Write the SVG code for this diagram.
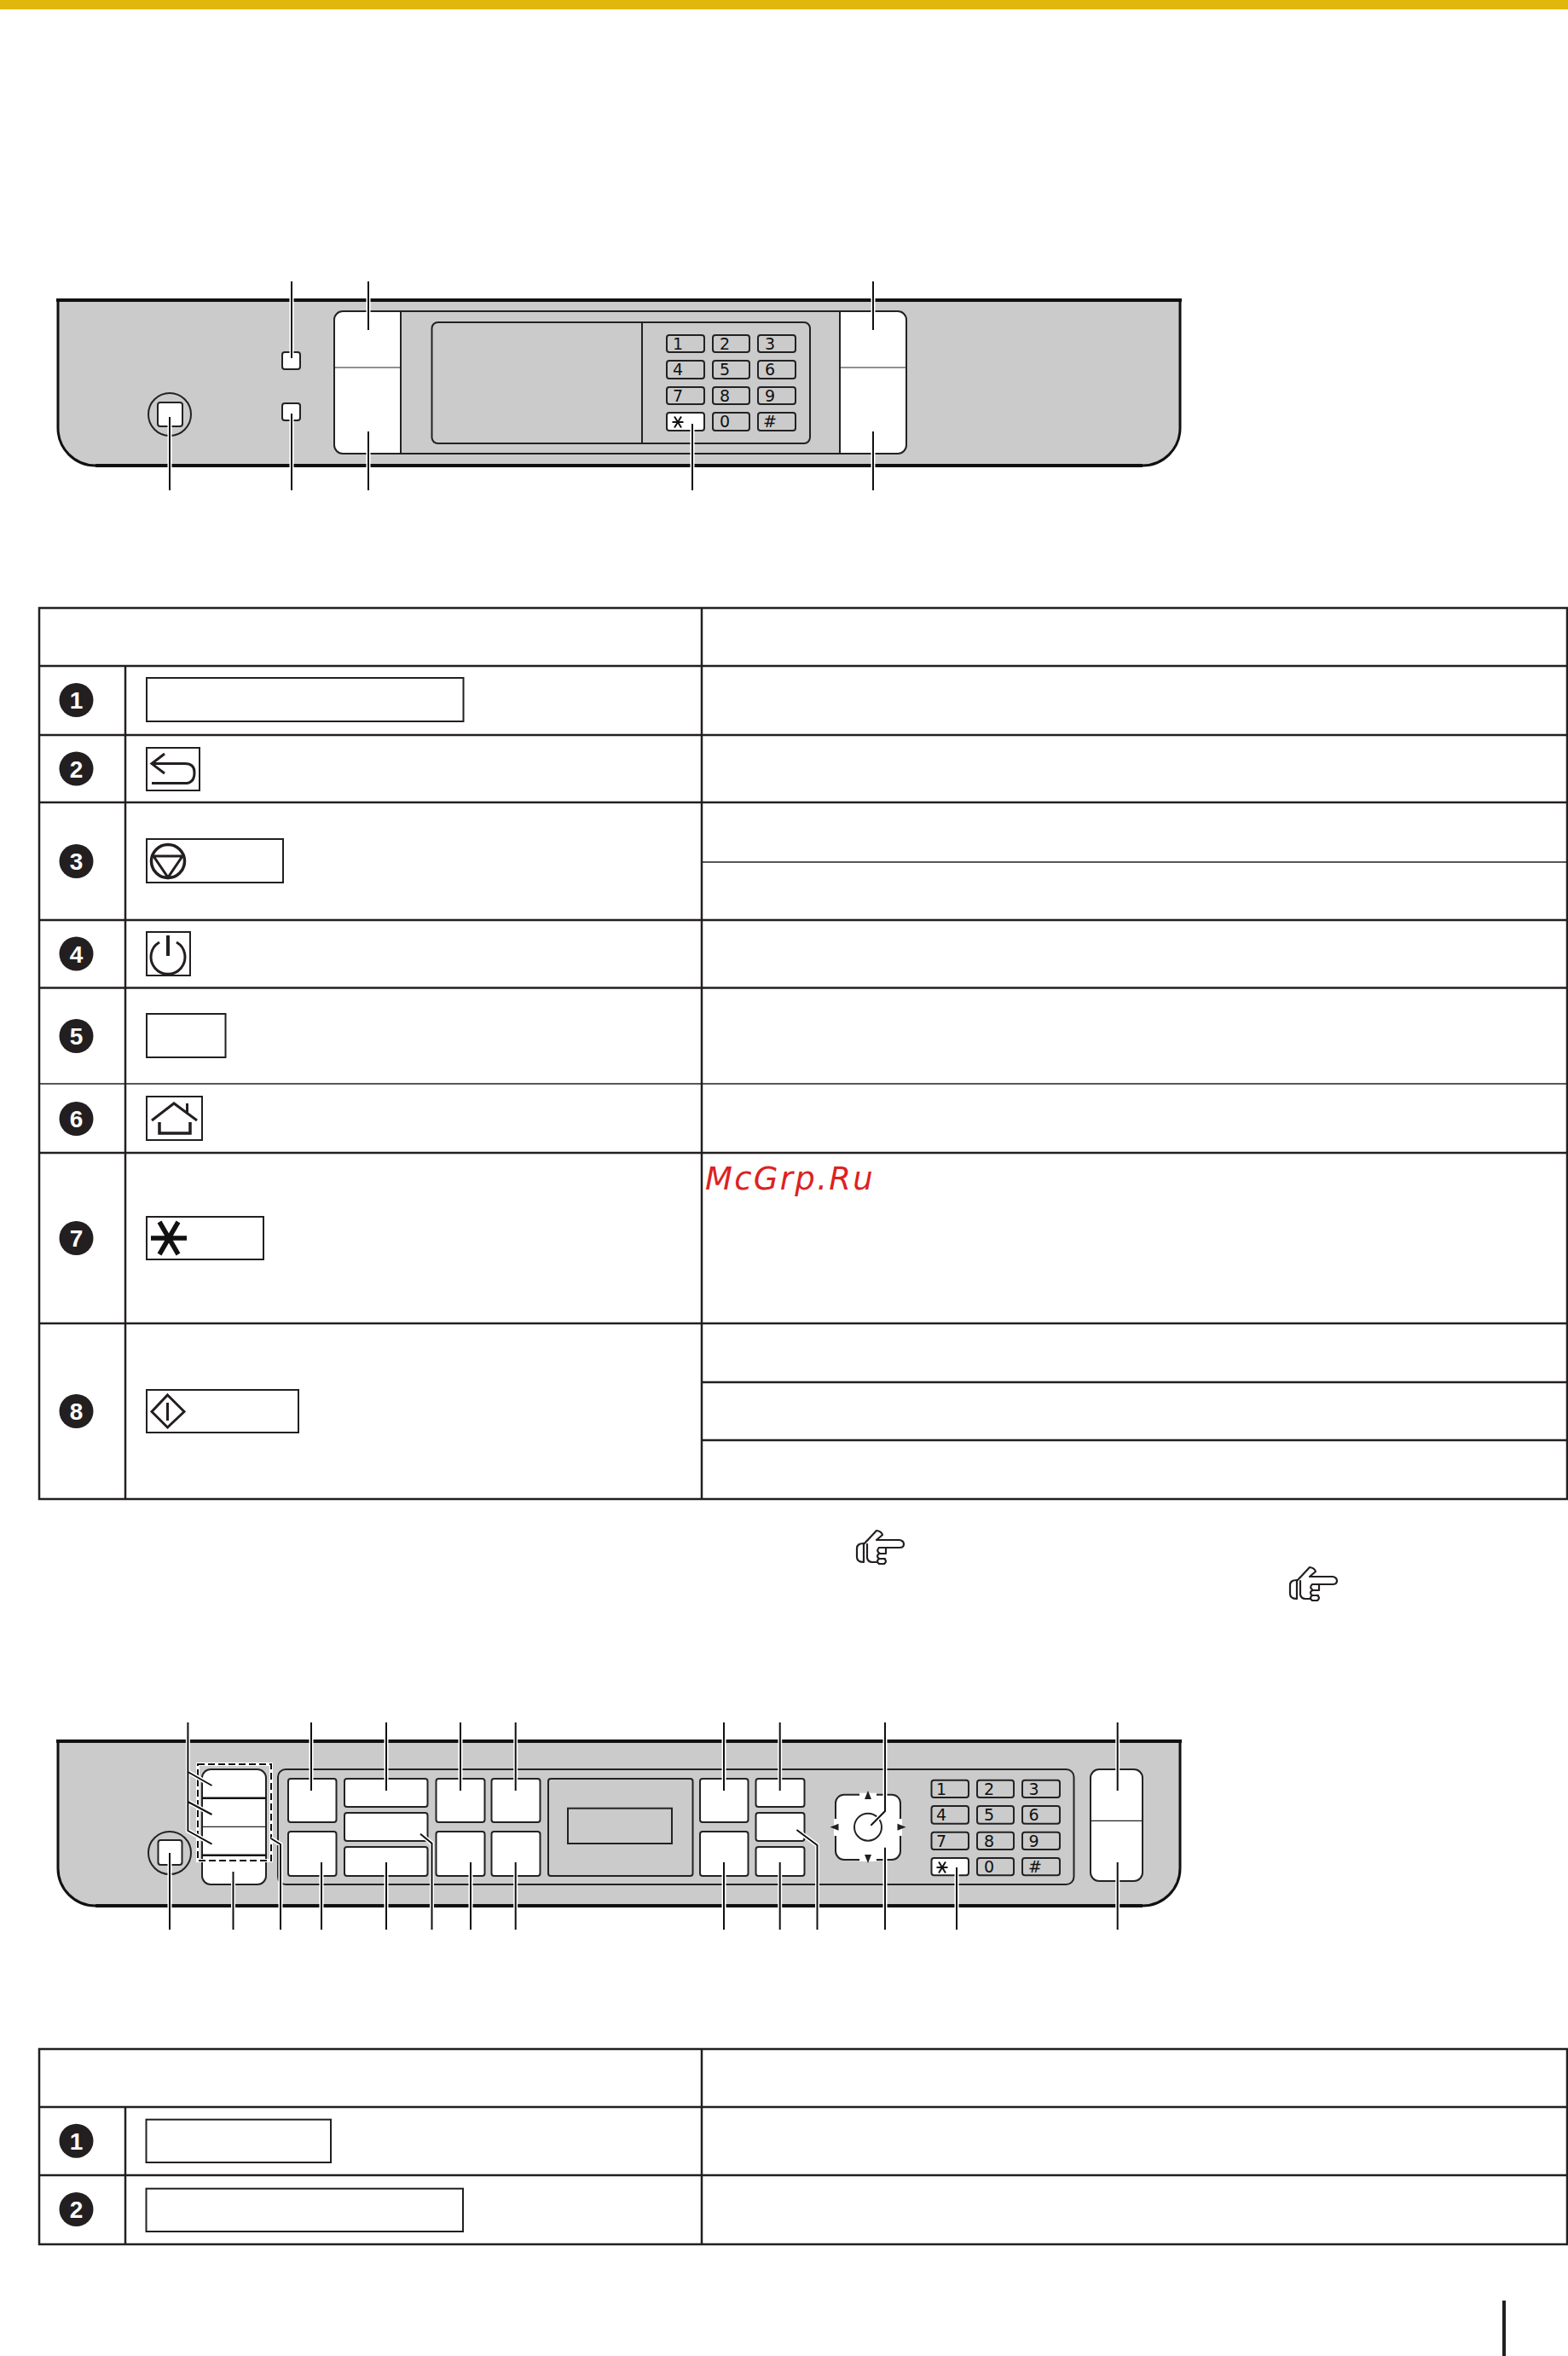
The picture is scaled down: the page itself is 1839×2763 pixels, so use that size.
<svg xmlns="http://www.w3.org/2000/svg" width="1839" height="2763" viewBox="0 0 1839 2763">
<style>
.panel{fill:#cbcbcb;stroke:#111;stroke-width:3}
.pedge{fill:none;stroke:#111;stroke-width:4}
.wb{fill:#fff;stroke:#222;stroke-width:2}
.key{fill:#cbcbcb;stroke:#222;stroke-width:2}
.line{fill:none;stroke:#222;stroke-width:2}
.thin{fill:none;stroke:#222;stroke-width:1.2}
.halo{fill:none;stroke:#fff;stroke-width:5}
.lead{fill:none;stroke:#111;stroke-width:2}
.t{fill:none;stroke:#231f20;stroke-width:2.5}
.t2{fill:none;stroke:#231f20;stroke-width:1.5}
.bx{fill:#fff;stroke:#231f20;stroke-width:2}
.ico{fill:none;stroke:#231f20;stroke-width:3}
.hand{fill:none;stroke:#231f20;stroke-width:2.2;stroke-linejoin:round;stroke-linecap:round}
.num{fill:#fff;font:bold 28px "Liberation Sans",Arial,sans-serif;text-anchor:middle}
.dot{fill:#231f20}
.d{fill:#111;font:19px "DejaVu Sans",sans-serif;text-anchor:middle}
.wm{fill:#dc2222;font:italic 37px "DejaVu Sans",sans-serif;letter-spacing:2.3px}
</style>
<defs>
<g id="leadhand"><path class="hand" d="M8 15Q0 15 0 21V31Q0 37 8 37ZM8 16 23 0Q29 1 30 5L23 11H50Q55 12 55 16Q55 20 50 20H26Q22 24 27 27H34M26 27Q22 30 26 33H33M26 33Q22 36 26 39H32Q36 36 32 33M34 20V27M12 16V32Q13 37 18 37H24"/></g>
<path id="star" d="M-4-6.500 4 6.500M4-6.500-4 6.500M-6.500 0H6.500" fill="none" stroke="#111" stroke-width="2"/>
</defs>
<rect x="0" y="0" width="1839" height="11" fill="#e0b70b"/>

<g id="panel1">
<path class="panel" d="M68 352H1384V502a44 44 0 0 1-44 44H112a44 44 0 0 1-44-44Z"/>
<path class="pedge" d="M66 352H1386M112 546H1340"/>
<rect class="line" x="470" y="365" width="515" height="167"/>
<path class="wb" d="M470 365H402a10 10 0 0 0-10 10V522a10 10 0 0 0 10 10H470Z"/>
<path class="wb" d="M985 365H1053a10 10 0 0 1 10 10V522a10 10 0 0 1-10 10H985Z"/>
<path class="thin" d="M392 431H470M985 431H1063"/>
<rect class="line" x="506.500" y="378" width="443.500" height="142" rx="7"/>
<path class="line" d="M753 378V520"/>
<rect class="wb" x="331" y="413" width="21" height="20" rx="3"/>
<rect class="wb" x="331" y="473" width="21" height="20" rx="3"/>
<circle class="line" cx="199" cy="486" r="25"/>
<rect class="wb" x="185" y="472" width="29" height="28" rx="3"/>
<g id="keys1">
<rect class="key" x="782" y="393" width="44" height="20" rx="3"/><rect class="key" x="836" y="393" width="43" height="20" rx="3"/><rect class="key" x="889" y="393" width="44" height="20" rx="3"/>
<rect class="key" x="782" y="423" width="44" height="21" rx="3"/><rect class="key" x="836" y="423" width="43" height="21" rx="3"/><rect class="key" x="889" y="423" width="44" height="21" rx="3"/>
<rect class="key" x="782" y="454" width="44" height="20" rx="3"/><rect class="key" x="836" y="454" width="43" height="20" rx="3"/><rect class="key" x="889" y="454" width="44" height="20" rx="3"/>
<rect class="wb" x="782" y="484" width="44" height="21" rx="3"/><rect class="key" x="836" y="484" width="43" height="21" rx="3"/><rect class="key" x="889" y="484" width="44" height="21" rx="3"/>
<text class="d" x="795" y="410">1</text><text class="d" x="850" y="410">2</text><text class="d" x="903" y="410">3</text>
<text class="d" x="795" y="440">4</text><text class="d" x="850" y="440">5</text><text class="d" x="903" y="440">6</text>
<text class="d" x="795" y="471">7</text><text class="d" x="850" y="471">8</text><text class="d" x="903" y="471">9</text>
<use href="#star" x="795" y="495"/><text class="d" x="850" y="501">0</text><text class="d" x="903" y="501">#</text>
</g>
</g>

<g id="panel2">
<path class="panel" d="M68 2042H1384V2191a44 44 0 0 1-44 44H112a44 44 0 0 1-44-44Z"/>
<path class="pedge" d="M66 2042H1386M112 2235H1340"/>
<rect class="line" x="326" y="2075" width="933.500" height="135" rx="9"/>
<path class="wb" d="M247 2075H302a10 10 0 0 1 10 10V2200a10 10 0 0 1-10 10H247a10 10 0 0 1-10-10V2085a10 10 0 0 1 10-10Z"/>
<path d="M237 2108.700H312M237 2175.700H312" fill="none" stroke="#111" stroke-width="2.500"/>
<path d="M237 2142.300H312" class="thin"/>
<rect x="232" y="2069" width="86" height="113" fill="none" stroke="#fff" stroke-width="4"/>
<rect x="232" y="2069" width="86" height="113" fill="none" stroke="#111" stroke-width="2" stroke-dasharray="8 4"/>
<circle class="line" cx="199" cy="2173" r="25"/>
<rect class="wb" x="185.500" y="2158" width="28" height="29" rx="3"/>
<g id="btns2">
<rect class="wb" x="338" y="2086" width="56.500" height="51" rx="3"/><rect class="wb" x="338" y="2148" width="56.500" height="52" rx="3"/>
<rect class="wb" x="404" y="2086" width="97.500" height="33" rx="3"/><rect class="wb" x="404" y="2126" width="97.500" height="33" rx="3"/><rect class="wb" x="404" y="2166" width="97.500" height="34" rx="3"/>
<rect class="wb" x="511.500" y="2086" width="57" height="51" rx="3"/><rect class="wb" x="511.500" y="2148" width="57" height="52" rx="3"/>
<rect class="wb" x="576.500" y="2086" width="57" height="51" rx="3"/><rect class="wb" x="576.500" y="2148" width="57" height="52" rx="3"/>
<rect class="line" x="643" y="2086" width="169.500" height="114" rx="3"/>
<rect class="line" x="666" y="2120.700" width="122" height="41.300"/>
<rect class="wb" x="821" y="2086" width="56.500" height="51" rx="3"/><rect class="wb" x="821" y="2148" width="56.500" height="52" rx="3"/>
<rect class="wb" x="886.500" y="2086" width="57" height="33" rx="3"/><rect class="wb" x="886.500" y="2126" width="57" height="33" rx="3"/><rect class="wb" x="886.500" y="2166" width="57" height="34" rx="3"/>
</g>
<g id="nav">
<rect class="wb" x="980" y="2104.700" width="76" height="76.300" rx="10"/>
<path d="M1008 2104.700H1028M1008 2181H1028M980 2133V2153M1056 2133V2153" stroke="#fff" stroke-width="4"/>
<circle class="line" cx="1018" cy="2142.700" r="16"/>
<path class="dot" d="M1018 2100l4 10h-8ZM1018 2185l4-10h-8ZM973.500 2142.700l10-4v8ZM1062.500 2142.700l-10-4v8Z"/>
</g>
<g id="keys2">
<rect class="line" x="1092.500" y="2087.700" width="43.500" height="20.300" rx="3"/><rect class="line" x="1146" y="2087.700" width="43" height="20.300" rx="3"/><rect class="line" x="1199" y="2087.700" width="44" height="20.300" rx="3"/>
<rect class="line" x="1092.500" y="2118" width="43.500" height="20.700" rx="3"/><rect class="line" x="1146" y="2118" width="43" height="20.700" rx="3"/><rect class="line" x="1199" y="2118" width="44" height="20.700" rx="3"/>
<rect class="line" x="1092.500" y="2148.700" width="43.500" height="20.300" rx="3"/><rect class="line" x="1146" y="2148.700" width="43" height="20.300" rx="3"/><rect class="line" x="1199" y="2148.700" width="44" height="20.300" rx="3"/>
<rect class="wb" x="1092.500" y="2179" width="43.500" height="20.300" rx="3"/><rect class="line" x="1146" y="2179" width="43" height="20.300" rx="3"/><rect class="line" x="1199" y="2179" width="44" height="20.300" rx="3"/>
<text class="d" x="1104" y="2104.500">1</text><text class="d" x="1160" y="2104.500">2</text><text class="d" x="1212.500" y="2104.500">3</text>
<text class="d" x="1104" y="2135">4</text><text class="d" x="1160" y="2135">5</text><text class="d" x="1212.500" y="2135">6</text>
<text class="d" x="1104" y="2165.500">7</text><text class="d" x="1160" y="2165.500">8</text><text class="d" x="1212.500" y="2165.500">9</text>
<use href="#star" x="1105" y="2190"/><text class="d" x="1160" y="2196">0</text><text class="d" x="1214" y="2196">#</text>
</g>
<path class="wb" d="M1289 2075H1330a10 10 0 0 1 10 10V2196a10 10 0 0 1-10 10H1289a10 10 0 0 1-10-10V2085a10 10 0 0 1 10-10Z"/>
<path class="thin" d="M1279 2135.300H1340"/>
</g>

<g id="connectors">
<path id="c1" class="halo" d="M342 330V420M432 330V387M1024 330V387M199 489V575M342 485V575M432 506V575M812 497V575M1024 506V575"/>
<path class="lead" d="M342 330V420M432 330V387M1024 330V387M199 489V575M342 485V575M432 506V575M812 497V575M1024 506V575"/>
<path id="c2" class="halo" d="M220.400 2020V2147L248.500 2162.700M220.400 2078 248.500 2094M220.400 2113 248.500 2128M365 2020V2100M453 2020V2100M540 2020V2100M604.700 2020V2100M849 2020V2100M914.700 2020V2100M1038 2020V2124L1021.400 2140.700M1310.700 2020V2100M199 2173V2263M273.500 2195V2263M329 2263V2163L317.700 2156M377 2184V2263M453 2184V2263M506.500 2263V2161.700L493 2150.700M552 2184V2263M604.700 2184V2263M849 2184V2263M914.700 2184V2263M958.500 2263V2164L934.400 2146M1038 2166.700V2263M1122 2190V2263M1310.700 2184V2263"/>
<path class="lead" d="M220.400 2020V2147L248.500 2162.700M220.400 2078 248.500 2094M220.400 2113 248.500 2128M365 2020V2100M453 2020V2100M540 2020V2100M604.700 2020V2100M849 2020V2100M914.700 2020V2100M1038 2020V2124L1021.400 2140.700M1310.700 2020V2100M199 2173V2263M273.500 2195V2263M329 2263V2163L317.700 2156M377 2184V2263M453 2184V2263M506.500 2263V2161.700L493 2150.700M552 2184V2263M604.700 2184V2263M849 2184V2263M914.700 2184V2263M958.500 2263V2164L934.400 2146M1038 2166.700V2263M1122 2190V2263M1310.700 2184V2263"/>
</g>

<g id="table1">
<rect class="t" x="46" y="713" width="1792" height="1045"/>
<path class="t" d="M46 781H1838M46 862H1838M46 941H1838M46 1079H1838M46 1158.500H1838M46 1352H1838M46 1552H1838M147 781V1758M823 713V1758M823 1621H1838M823 1689H1838"/>
<path class="t2" d="M823 1011H1838M46 1271H1838"/>
<g id="r1"><circle class="dot" cx="89.500" cy="821" r="20"/><text class="num" x="89.500" y="831">1</text><rect class="bx" x="172" y="795" width="371.500" height="51"/></g>
<g id="r2"><circle class="dot" cx="89.500" cy="901.500" r="20"/><text class="num" x="89.500" y="911.500">2</text><rect class="bx" x="172" y="877" width="62" height="50"/>
<path class="ico" d="M193 884 178 895.600 193 907M178 895.600H217Q228 895.600 228 906Q228 918.600 217 918.600H178"/></g>
<g id="r3"><circle class="dot" cx="89.500" cy="1010" r="20"/><text class="num" x="89.500" y="1020">3</text><rect class="bx" x="172" y="984" width="160" height="51"/>
<circle class="ico" cx="197" cy="1010" r="19.500" style="stroke-width:3.500"/><path class="ico" d="M180 1004H214L197 1029Z"/></g>
<g id="r4"><circle class="dot" cx="89.500" cy="1118.500" r="20"/><text class="num" x="89.500" y="1128.500">4</text><rect class="bx" x="172" y="1093" width="51" height="51"/>
<path class="ico" d="M187 1105a20 20 0 1 0 20 0"/><path d="M197 1097V1121" stroke="#231f20" stroke-width="4"/></g>
<g id="r5"><circle class="dot" cx="89.500" cy="1215" r="20"/><text class="num" x="89.500" y="1225">5</text><rect class="bx" x="172" y="1189" width="92.500" height="51"/></g>
<g id="r6"><circle class="dot" cx="89.500" cy="1312" r="20"/><text class="num" x="89.500" y="1322">6</text><rect class="bx" x="172" y="1286" width="65" height="51"/>
<path class="ico" d="M178 1314l26-20 27 20M219.500 1294v11"/><path class="ico" d="M187 1316v13h36v-13" style="stroke-width:3.500"/></g>
<g id="r7"><circle class="dot" cx="89.500" cy="1452" r="20"/><text class="num" x="89.500" y="1462">7</text><rect class="bx" x="172" y="1427" width="137" height="50"/>
<path d="M187 1433 209 1471M209 1433 187 1471M177 1452H219" fill="none" stroke="#111" stroke-width="5.500"/></g>
<g id="r8"><circle class="dot" cx="89.500" cy="1655" r="20"/><text class="num" x="89.500" y="1665">8</text><rect class="bx" x="172" y="1630" width="178" height="50"/>
<path class="ico" d="M196.500 1636 216 1655.500 196.500 1674 178 1655.500ZM196.500 1645V1666"/></g>
</g>

<text class="wm" x="827" y="1395">McGrp.Ru</text>
<use href="#leadhand" x="1005" y="1795"/>
<use href="#leadhand" x="1513" y="1838"/>

<g id="table2">
<rect class="t" x="46" y="2403" width="1792" height="229"/>
<path class="t" d="M46 2471H1838M46 2551H1838M147 2471V2632M823 2403V2632"/>
<g id="s1"><circle class="dot" cx="89.500" cy="2510.700" r="20"/><text class="num" x="89.500" y="2520.700">1</text><rect class="bx" x="171.500" y="2485.700" width="216.500" height="50.300"/></g>
<g id="s2"><circle class="dot" cx="89.500" cy="2591" r="20"/><text class="num" x="89.500" y="2601">2</text><rect class="bx" x="171.500" y="2566.700" width="371.500" height="50.300"/></g>
</g>
<rect x="1762" y="2698" width="4" height="65" fill="#231f20"/>
</svg>
